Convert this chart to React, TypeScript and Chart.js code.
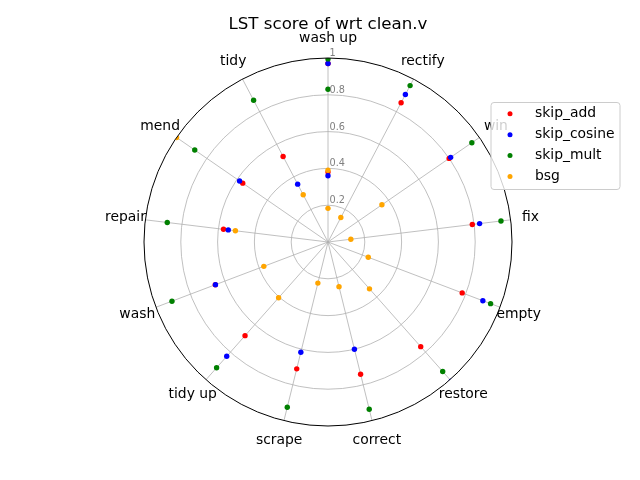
import React, { useEffect, useRef } from "react";
import { Chart, registerables } from "chart.js";

Chart.register(...registerables);

const chartTitle = "LST score of wrt clean.v";
const categories = ["wash up", "rectify", "win", "fix", "empty", "restore", "correct", "scrape", "tidy up", "wash", "repair", "mend", "tidy"];
const seriesNames = ["skip_add", "skip_cosine", "skip_mult", "bsg"];
const seriesColors = ["#ff0000", "#0000ff", "#008000", "#ffa500"];

// one value per labelled axis (13)
const skipAdd = [0.97, 0.855, 0.8, 0.79, 0.78, 0.76, 0.74, 0.71, 0.68, 0.655, 0.572, 0.563, 0.525];
const skipCosine = [0.97, 0.905, 0.81, 0.83, 0.9, 1.01, 0.6, 0.617, 0.83, 0.654, 0.546, 0.584, 0.355];
const skipMult = [0.995, 0.96, 0.95, 0.947, 0.945, 0.94, 0.936, 0.925, 0.913, 0.907, 0.88, 0.88, 0.87];
const bsg = [0.39, 0.15, 0.356, 0.125, 0.234, 0.34, 0.25, 0.23, 0.405, 0.373, 0.507, 1.0, 0.29];
// 14th value of each series, which lands back on the "wash up" axis
const closingValues = [0.38, 0.36, 0.83, 0.183];

const tickValues = [0.2, 0.4, 0.6, 0.8, 1];
const tickLabels = ["0.2", "0.4", "0.6", "0.8", "1"];

const FONT = '"DejaVu Sans", "Liberation Sans", sans-serif';

const polarDecor = {
  id: "polarDecor",
  beforeDatasetsDraw(chart: any) {
    const s = chart.scales.r;
    const ctx = chart.ctx;
    ctx.save();
    ctx.beginPath();
    ctx.arc(s.xCenter, s.yCenter, s.getDistanceFromCenterForValue(1), 0, Math.PI * 2);
    ctx.clip();
  },
  afterDatasetsDraw(chart: any) {
    const s = chart.scales.r;
    const ctx = chart.ctx;
    ctx.restore();
    ctx.save();
    const R = s.getDistanceFromCenterForValue(1);
    // outer spine
    ctx.beginPath();
    ctx.arc(s.xCenter, s.yCenter, R, 0, Math.PI * 2);
    ctx.strokeStyle = "#000000";
    ctx.lineWidth = 1;
    ctx.stroke();
    // radial tick labels
    ctx.font = `9.7px ${FONT}`;
    ctx.fillStyle = "#808080";
    ctx.textAlign = "left";
    ctx.textBaseline = "alphabetic";
    tickValues.forEach((v, i) => {
      const d = s.getDistanceFromCenterForValue(v);
      ctx.fillText(tickLabels[i], s.xCenter + 1.5, s.yCenter - d - 2);
    });
    // category labels
    ctx.font = `13.9px ${FONT}`;
    ctx.fillStyle = "#000000";
    ctx.textAlign = "center";
    ctx.textBaseline = "middle";
    (chart.data.labels as string[]).forEach((lab, i) => {
      const p = s.getPointPosition(i, R + 20);
      ctx.fillText(lab, p.x, p.y);
    });
    ctx.restore();
  },
  afterDraw(chart: any) {
    const ctx = chart.ctx;
    ctx.save();
    const lx = 491, ly = 102.5, lw = 129, lh = 87, rad = 3;
    ctx.beginPath();
    ctx.moveTo(lx + rad, ly);
    ctx.lineTo(lx + lw - rad, ly);
    ctx.quadraticCurveTo(lx + lw, ly, lx + lw, ly + rad);
    ctx.lineTo(lx + lw, ly + lh - rad);
    ctx.quadraticCurveTo(lx + lw, ly + lh, lx + lw - rad, ly + lh);
    ctx.lineTo(lx + rad, ly + lh);
    ctx.quadraticCurveTo(lx, ly + lh, lx, ly + lh - rad);
    ctx.lineTo(lx, ly + rad);
    ctx.quadraticCurveTo(lx, ly, lx + rad, ly);
    ctx.closePath();
    ctx.fillStyle = "rgba(255,255,255,0.8)";
    ctx.fill();
    ctx.strokeStyle = "#cccccc";
    ctx.lineWidth = 1;
    ctx.stroke();
    ctx.font = `13.9px ${FONT}`;
    ctx.textAlign = "left";
    ctx.textBaseline = "middle";
    seriesNames.forEach((name, i) => {
      const y = ly + 11.3 + i * 20.9;
      ctx.beginPath();
      ctx.arc(lx + 19, y, 2.5, 0, Math.PI * 2);
      ctx.fillStyle = seriesColors[i];
      ctx.fill();
      ctx.fillStyle = "#000000";
      ctx.fillText(name, lx + 44, y);
    });
    ctx.restore();
  },
};

export default function App() {
  const canvasRef = useRef<HTMLCanvasElement | null>(null);

  useEffect(() => {
    if (!canvasRef.current) return;
    Chart.defaults.font.family = FONT;
    const mainSeries = [skipAdd, skipCosine, skipMult, bsg];
    const pointStyle = (k: number) => ({
      showLine: false,
      fill: false,
      borderWidth: 0,
      borderColor: seriesColors[k],
      backgroundColor: seriesColors[k],
      pointRadius: 2.7,
      pointBorderWidth: 0,
      pointBackgroundColor: seriesColors[k],
      order: 3 - k,
    });
    const datasets: any[] = mainSeries.map((vals, k) => ({
      label: seriesNames[k],
      data: vals,
      ...pointStyle(k),
    }));
    closingValues.forEach((v, k) => {
      datasets.push({
        label: seriesNames[k] + " (end)",
        data: categories.map((_, i) => (i === 0 ? v : null)),
        ...pointStyle(k),
      });
    });

    const chart = new Chart(canvasRef.current, {
      type: "radar",
      data: { labels: categories, datasets },
      options: {
        animation: false,
        responsive: false,
        events: [],
        layout: { padding: { left: 144, right: 128, top: 0, bottom: 53 } },
        plugins: {
          legend: { display: false },
          tooltip: { enabled: false },
          title: {
            display: true,
            text: chartTitle,
            color: "#000000",
            font: { size: 16.67, weight: "normal", family: FONT },
            padding: { top: 15, bottom: 23 },
          },
        },
        scales: {
          r: {
            min: 0,
            max: 1,
            ticks: { display: false, stepSize: 0.2 },
            pointLabels: { display: false },
            grid: {
              circular: true,
              lineWidth: 0.8,
              color: (c: any) => (c.tick && c.tick.value > 0.99 ? "rgba(0,0,0,0)" : "#b0b0b0"),
            },
            angleLines: { display: true, color: "#b0b0b0", lineWidth: 0.8 },
          },
        },
      } as any,
      plugins: [polarDecor],
    });
    return () => chart.destroy();
  }, []);

  return (
    <div style={{ position: "fixed", left: 0, top: 0, width: 640, height: 480, background: "#ffffff" }}>
      <canvas ref={canvasRef} width={640} height={480} style={{ display: "block" }} />
    </div>
  );
}
